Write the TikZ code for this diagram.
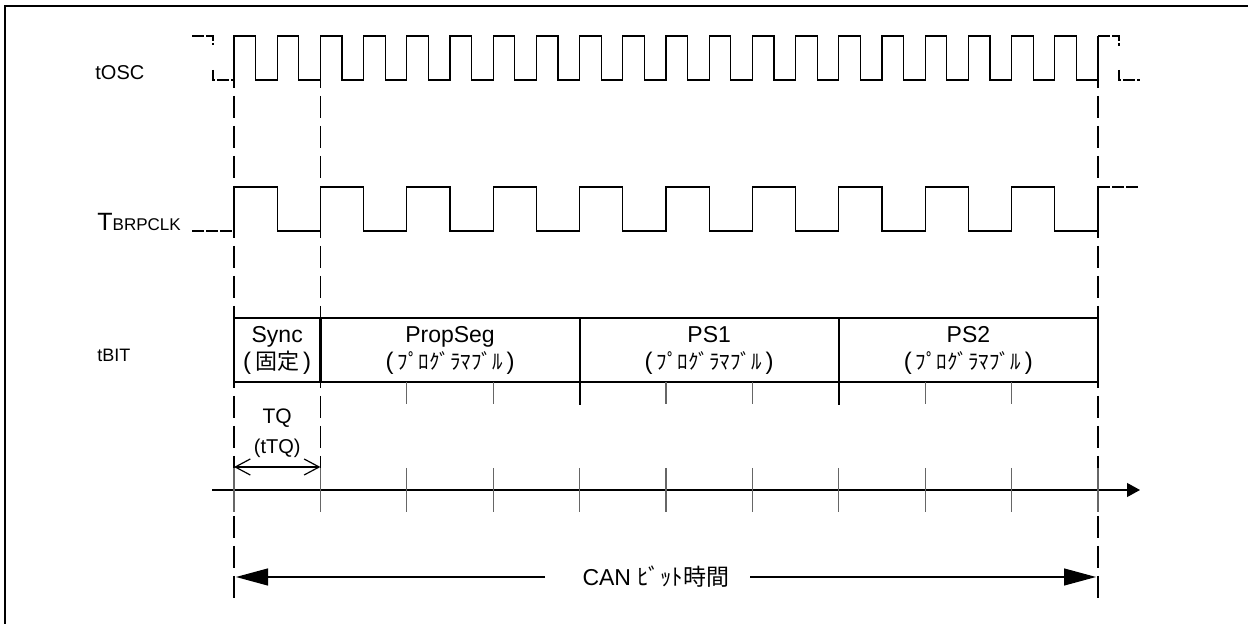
\documentclass[tikz,border=0pt]{standalone}
\usepackage{fontspec}
\setmainfont{Liberation Sans}
\newfontfamily\jp{Noto Sans CJK JP}
\usetikzlibrary{arrows.meta}
\newcommand{\progr}{{\fontsize{12}{13}\selectfont(\,}{\jp\fontsize{10.5}{12}\selectfont ﾌﾟﾛｸﾞﾗﾏﾌﾞﾙ}{\fontsize{12}{13}\selectfont\,)}}

\begin{document}
\begin{tikzpicture}[x=0.5pt,y=-0.5pt]

\tikzset{sig/.style = {line width=0.6pt}}
\tikzset{undef/.style = {line width=0.6pt, dash pattern=on 6pt off 1pt}}
\tikzset{guide/.style = {line width=0.6pt, dash pattern=on 11pt off 4pt}}
\tikzset{tick/.style = {line width=0.6pt, black!60}}
\tikzset{seg/.style = {draw, line width=1.1pt, minimum height=32pt, inner sep=0pt, outer sep=0pt, align=center, font=\fontsize{11.5}{13.5}\selectfont}}
\tikzset{lbl/.style = {anchor=base west, inner sep=0pt, font=\fontsize{10}{12}\selectfont}}
\tikzset{barb/.style = {{Straight Barb[length=7.5pt,width=8pt]}-{Straight Barb[length=7.5pt,width=8pt]}, line width=0.6pt}}
\tikzset{bigarrow/.style = {-{Triangle[length=16pt,width=8.5pt]}, line width=0.6pt}}

\useasboundingbox (0,0) rectangle (1248,624);
\clip (0,0) rectangle (1248,624);
\draw[line width=1.2pt] (5,6) rectangle (1280,650);

%labels
\node[lbl] (osc) at (95,80) {tOSC};
\node[lbl] (brp) at (97,231) {{\fontsize{12.5}{14}\selectfont T}{\fontsize{8.5}{10}\selectfont BRPCLK}};
\node[lbl, font=\fontsize{9}{11}\selectfont] (bit) at (97,362) {tBIT};

%clocks
\draw[undef] (192,36) -- (213,36) -- (213,45);
\draw[undef] (213,70) -- (213,80) -- (234,80);
\draw[sig] (234,80) \foreach \k in {0,...,19} { -- ++(0,-44) -- ++(21.6,0) -- ++(0,44) -- ++(21.6,0) } -- ++(0,-44);
\draw[undef] (1098,36) -- (1119,36) -- (1119,46);
\draw[undef] (1119,70) -- (1119,80) -- (1140,80);

\draw[undef] (192,231) -- (234,231);
\draw[sig] (234,231) \foreach \k in {0,...,9} { -- ++(0,-44) -- ++(43.2,0) -- ++(0,44) -- ++(43.2,0) } -- ++(0,-44);
\draw[undef] (1098,187) -- (1140,187);

%guides
\draw[guide] (234,36) -- (234,600);
\draw[guide] (320.4,36) -- (320.4,470);
\draw[guide] (1098,36) -- (1098,600);

%bit segments
\node[seg, minimum width=43.2pt] (sync) at (277.2,350) {Sync\\{\fontsize{12}{13}\selectfont(\,}{\jp\fontsize{11}{13}\selectfont 固定}{\fontsize{12}{13}\selectfont\,)}};
\node[seg, minimum width=129.6pt] (prop) at (450,350) {PropSeg\\\progr};
\node[seg, minimum width=129.6pt] (ps1) at (709.2,350) {PS1\\\progr};
\node[seg, minimum width=129.6pt] (ps2) at (968.4,350) {PS2\\\progr};
\foreach \k in {2,3,5,6,8,9}
  \draw[tick] ({234+86.4*\k},382) -- ++(0,22);
\draw[line width=1.1pt] (ps1.south west) -- ++(0,23);
\draw[line width=1.1pt] (ps2.south west) -- ++(0,23);

%time quantum
\node[inner sep=0pt, font=\fontsize{10.5}{12}\selectfont] (tq) at (277.2,418) {TQ};
\node[inner sep=0pt, font=\fontsize{10}{12}\selectfont] (ttq) at (277.2,448) {(tTQ)};
\coordinate (tqL) at (234,467);
\coordinate (tqR) at (320.4,467);
\draw[barb] (tqL) -- (tqR);

%time axis
\coordinate (axL) at (212,490);
\coordinate (axR) at (1140,490);
\draw[line width=0.6pt, -{Triangle[length=6.5pt,width=7pt]}] (axL) -- (axR);
\foreach \k in {0,...,10}
  \draw[tick] ({234+86.4*\k},468) -- ++(0,44);

%bit time
\node[inner sep=0pt, font=\fontsize{11.5}{13}\selectfont] (can) at (656,577) {CAN {\jp ﾋﾞｯﾄ時間}};
\coordinate (canA) at (545,577);
\coordinate (canB) at (750,577);
\coordinate (canL) at (236,577);
\coordinate (canR) at (1096,577);
\draw[bigarrow] (canA) -- (canL);
\draw[bigarrow] (canB) -- (canR);
\end{tikzpicture}
\end{document}
